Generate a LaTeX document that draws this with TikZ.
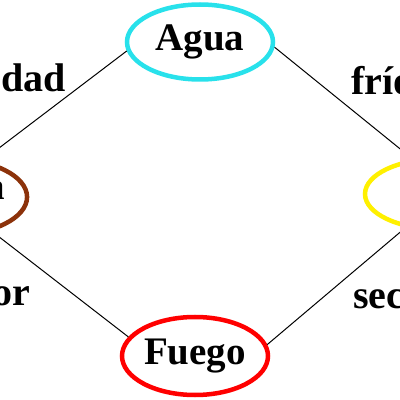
\documentclass[tikz,border=0pt]{standalone}
\usepackage{fontspec}
\setmainfont{Liberation Serif}
\usetikzlibrary{shapes.geometric}
\definecolor{aguacyan}{RGB}{40,225,235}
\definecolor{tierrabrown}{RGB}{140,50,10}
\definecolor{aireyellow}{RGB}{255,240,0}
\definecolor{fuegored}{RGB}{255,0,0}
\begin{document}
\begin{tikzpicture}
[
x=1pt, y=1pt,
elementellipse/.style={ellipse, line width=4.5pt, minimum width=146pt, inner sep=0pt, font=\fontsize{39}{40}\selectfont\bfseries},
qualitylabel/.style={inner sep=0pt, font=\fontsize{40}{42}\selectfont\bfseries},
link/.style={draw=black, line width=1pt}
]
\useasboundingbox (0,0) rectangle (400,400);
\clip (0,0) rectangle (400,400);
%Nodes
\node[elementellipse, draw=aguacyan, minimum height=75pt] at(200,358)		(agua) {Agua};
\node[elementellipse, draw=tierrabrown, minimum height=76pt, text height=25pt, text depth=20pt] at(-49,203)		(tierra) {Tierra};
\node[elementellipse, draw=aireyellow, minimum height=70pt] at(438,206)		(aire) {Aire};
\node[elementellipse, draw=fuegored, minimum height=78pt] at(195,44)		(fuego) {Fuego};
\node[qualitylabel, anchor=base east]		(q1) at(66,308) {humedad};
\node[qualitylabel, anchor=base west]		(q2) at(351,305) {frío};
\node[qualitylabel, anchor=base east]		(q3) at(30,95) {calor};
\node[qualitylabel, anchor=base west]		(q4) at(353,92) {seco};
%Links
\draw[link] (agua.187) -- (tierra.49);
\draw[link] (agua.356) -- (aire.126);
\draw[link] (tierra.320) -- (fuego.164);
\draw[link] (aire.226) -- (fuego.9);
\end{tikzpicture}
\end{document}
